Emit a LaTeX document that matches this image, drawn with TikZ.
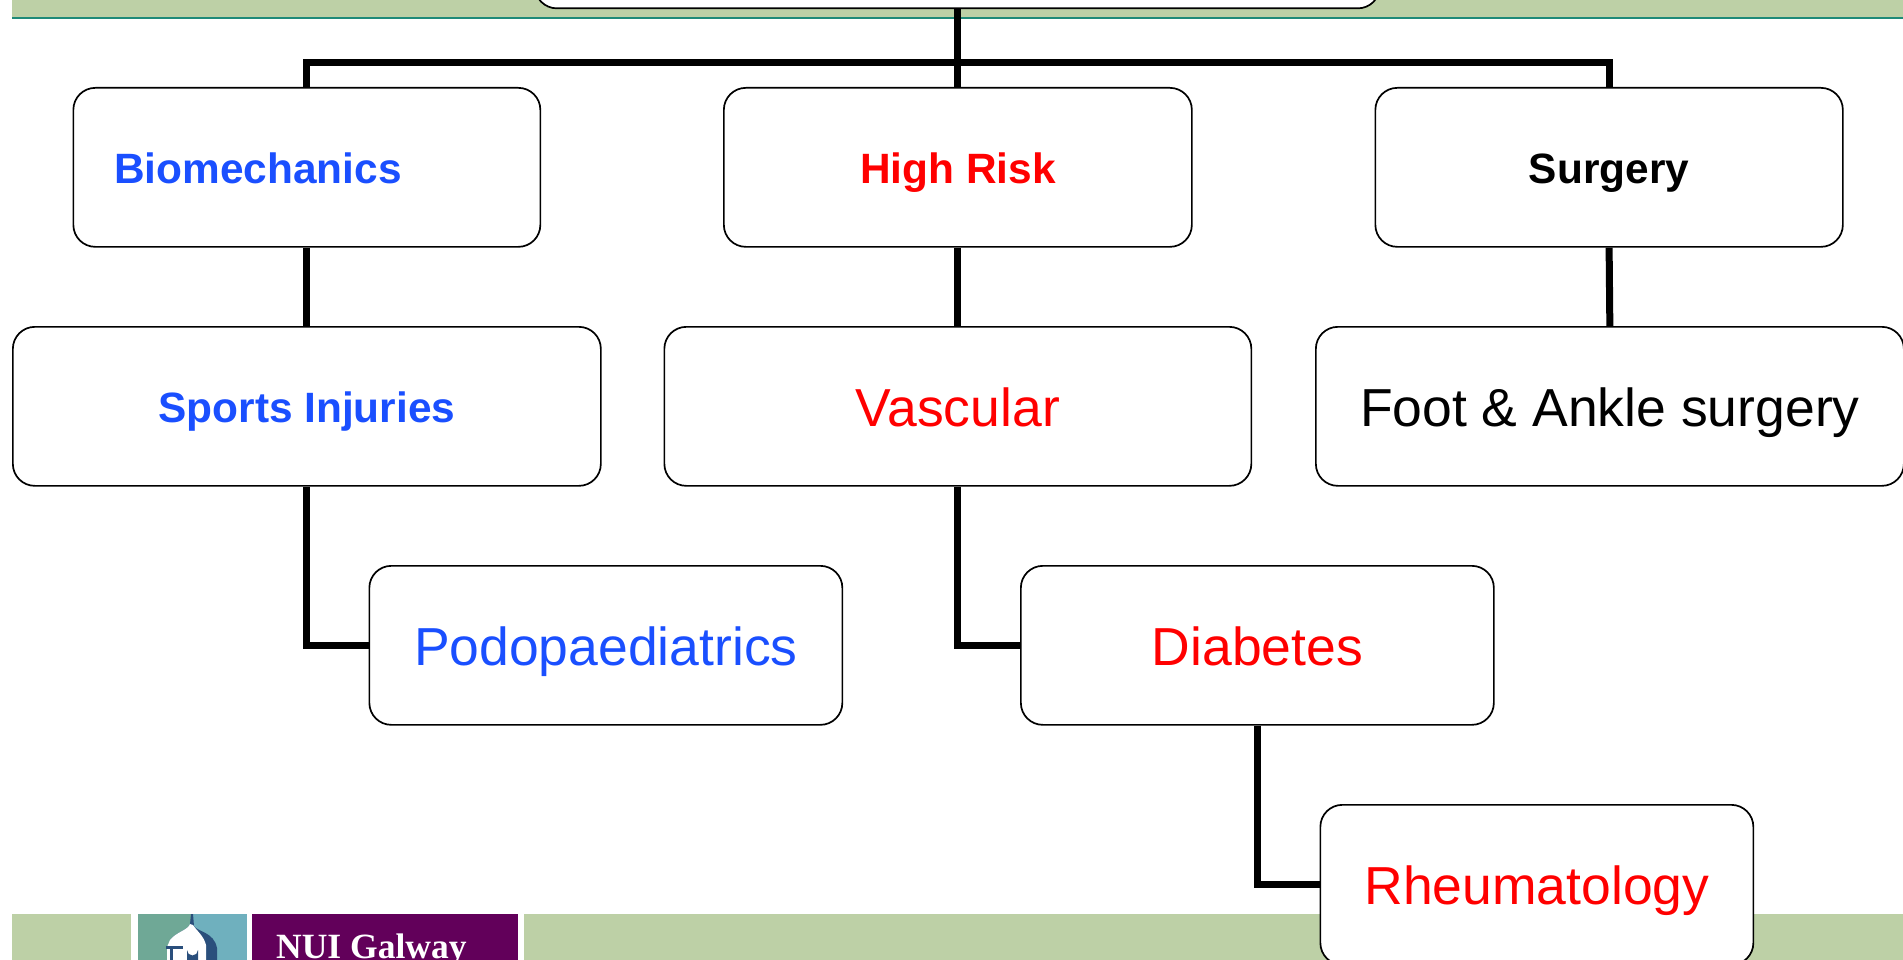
\documentclass[tikz,border=0pt]{standalone}
\usepackage{fontspec}
\setmainfont{Liberation Sans}
\newfontfamily\logofont{Liberation Serif}
\definecolor{band}{HTML}{BDD0A6}
\definecolor{rule}{HTML}{1F8A78}
\definecolor{nblue}{HTML}{1A4FFF}
\definecolor{nred}{HTML}{FF0000}
\definecolor{purp}{HTML}{62005A}
\definecolor{logoblue}{HTML}{6FB0BE}
\definecolor{logogreen}{HTML}{6FA896}
\definecolor{logonavy}{HTML}{2A4F7C}
\tikzset{
 box/.style={draw=black,line width=1.7pt,fill=white,rounded corners=22pt,inner sep=0pt,anchor=north west},
 link/.style={draw=black,line width=7pt,line join=miter},
 big/.style={font=\fontsize{53.5}{60}\selectfont,text height=39.6pt,text depth=0pt},
 bold/.style={font=\fontsize{42.4}{50}\selectfont\bfseries,text height=33pt,text depth=0pt},
}
\newcommand{\bx}[7]{\node[box,minimum width=#3pt,minimum height=#4pt,#6,text=#7] (#1) at (#2) {#5};}
\begin{document}
\begin{tikzpicture}[x=1pt,y=-1pt]
\useasboundingbox (0,0) rectangle (1903,960);
\fill[band] (12,0) rectangle (1903,17);
\fill[rule] (12,17) rectangle (1903,19.5);
\fill[band] (12,914) rectangle (1903,960);
\fill[white] (131,914) rectangle (524,960);
\fill[logoblue] (138,914) rectangle (247,960);
\fill[logogreen] (138,914) rectangle (192,960);
\fill[logonavy] (191,914) -- (193,914) -- (194,926) .. controls (198,932) and (214,932) .. (217,948) -- (217,960) -- (170,960) -- (170,940) .. controls (176,932) and (188,930) .. (190,924) -- cycle;
\fill[white] (190,924) .. controls (188,930) and (176,932) .. (170,940) -- (167,947) -- (167,960) -- (206,960) -- (206,945) .. controls (204,936) and (196,930) .. (193,925) -- cycle;
\fill[logonavy] (166,946) rectangle (183,949);
\fill[logonavy] (170,949) rectangle (173,960);
\fill[logonavy] (187,960) -- (187,950) arc[start angle=180,end angle=0,radius=5.5] -- (198,960) -- cycle;
\fill[purp] (252,914) rectangle (518,960);
\node[font=\logofont\bfseries\fontsize{35.5}{36}\selectfont,text=white,anchor=base west,inner sep=0pt] (logo) at (276,958) {NUI Galway};
\bx{top}{534,-152}{845}{159.5}{}{bold}{black}
\bx{bio}{72.5,87}{467}{159}{Biomechanics\hspace*{98pt}}{bold}{nblue}
\bx{high}{723,87}{468}{159}{High Risk}{bold}{nred}
\bx{surg}{1374.5,87}{467.5}{159}{Surgery}{bold}{black}
\bx{sport}{12,326}{588}{159}{Sports Injuries}{bold}{nblue}
\bx{vasc}{663.5,326}{587}{159}{Vascular}{big}{nred}
\bx{foot}{1315,326}{588}{159}{Foot \& Ankle surgery}{big}{black}
\bx{podo}{368.5,565}{473}{159}{Podopaediatrics}{big}{nblue}
\bx{diab}{1020,565}{473}{159}{Diabetes}{big}{nred}
\bx{rheu}{1319.5,804}{433}{160}{Rheumatology}{big}{nred}
\draw[link] (top.south) -- (top.south |- high.north);
\draw[link] (bio.north) |- (958,63) -| (surg.north);
\draw[link] (bio.south) -- (sport.north);
\draw[link] (high.south) -- (vasc.north);
\draw[link] (surg.south) -- (foot.north);
\draw[link] (sport.south) |- (podo.west);
\draw[link] (vasc.south) |- (diab.west);
\draw[link] (diab.south) |- (rheu.west);
\end{tikzpicture}
\end{document}
